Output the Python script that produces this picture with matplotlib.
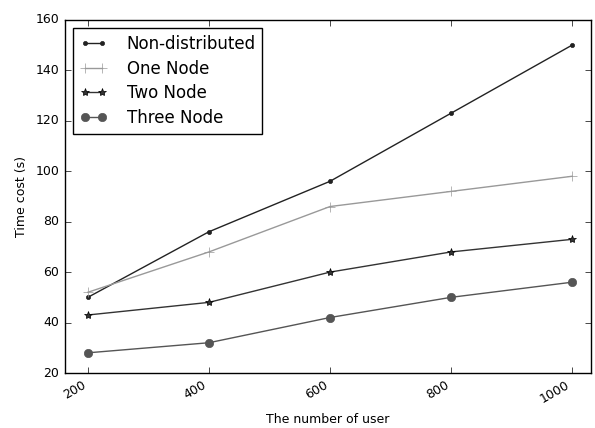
import matplotlib
matplotlib.use('Agg')
import matplotlib.pyplot as plt

# Data
users = [200, 400, 600, 800, 1000]
non_distributed = [50, 76, 96, 123, 150]
one_node = [52, 68, 86, 92, 98]
two_node = [43, 48, 60, 68, 73]
three_node = [28, 32, 42, 50, 56]

plt.style.use('classic')
plt.rcParams['font.family'] = 'DejaVu Sans'

fig = plt.figure(figsize=(5.95, 4.28), dpi=100, facecolor='white')
ax = fig.add_axes([0.109, 0.1285, 0.884, 0.825])

ax.plot(users, non_distributed, color='#222222', marker='.', markersize=6,
        linewidth=1.0, label='Non-distributed')
ax.plot(users, one_node, color='#999999', marker='+', markersize=7,
        linewidth=1.0, label='One Node')
ax.plot(users, two_node, color='#333333', marker='*', markersize=6,
        linewidth=1.0, label='Two Node')
ax.plot(users, three_node, color='#555555', marker='o', markersize=6,
        markeredgecolor='#555555', linewidth=1.0, label='Three Node')

ax.set_xlim(162, 1031)
ax.set_ylim(20, 160)
ax.set_xticks(users)
ax.set_yticks(range(20, 161, 20))
ax.tick_params(labelsize=9)
for lbl in ax.get_xticklabels():
    lbl.set_rotation(30)
    lbl.set_ha('right')

ax.set_xlabel('The number of user', fontsize=9)
ax.set_ylabel('Time cost (s)', fontsize=9)

ax.legend(loc='upper left', fontsize=12, numpoints=2, handlelength=1.6,
          handletextpad=1.2, labelspacing=0.4, borderpad=0.4,
          borderaxespad=0.5, frameon=True, fancybox=False)

fig.savefig('out.png', dpi=100, facecolor='white')
